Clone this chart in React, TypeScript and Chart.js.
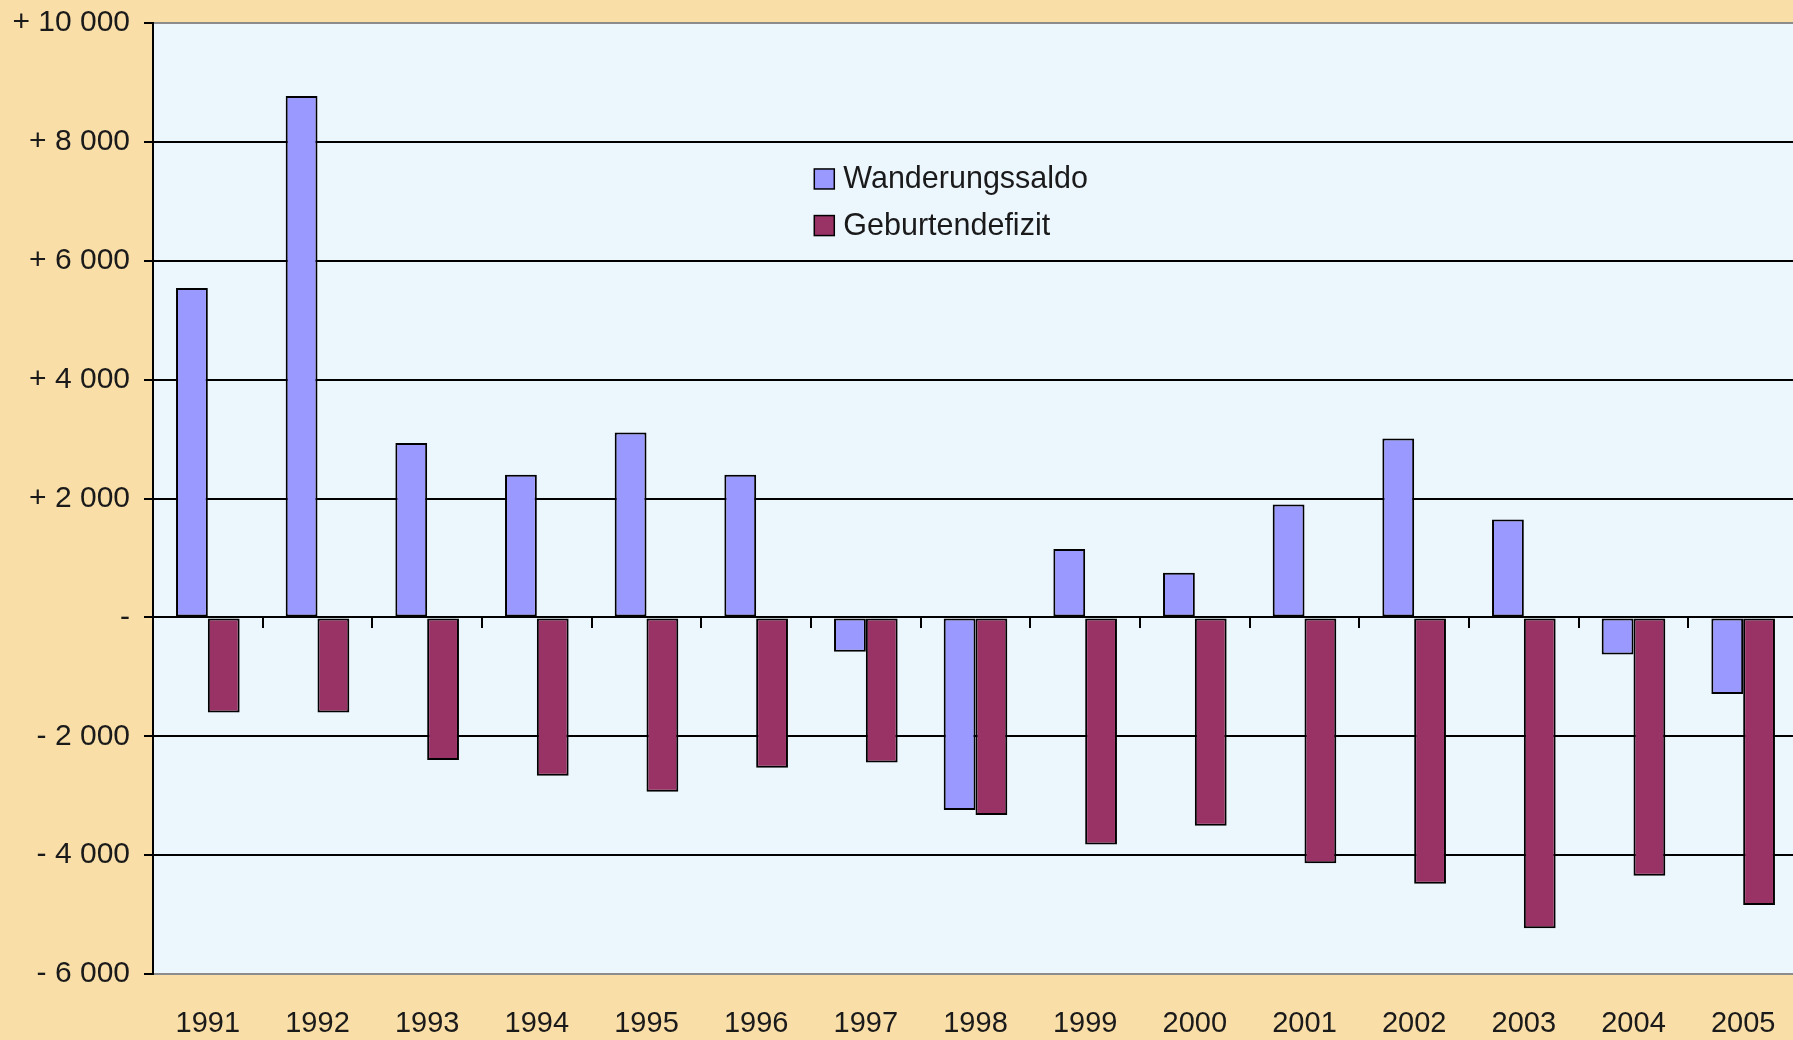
import React, { useEffect, useRef } from "react";
import { Chart, registerables } from "chart.js";

Chart.register(...registerables);

const years = ["1991", "1992", "1993", "1994", "1995", "1996", "1997", "1998", "1999", "2000", "2001", "2002", "2003", "2004", "2005"];
const wanderungssaldo = [5540, 8770, 2935, 2400, 3110, 2400, -580, -3240, 1150, 750, 1900, 3010, 1645, -625, -1290];
const geburtendefizit = [-1600, -1600, -2400, -2665, -2935, -2530, -2440, -3325, -3820, -3505, -4135, -4480, -5230, -4345, -4840];
const seriesNames = ["Wanderungssaldo", "Geburtendefizit"];
const seriesColors = ["#9999FF", "#993366"];
const yMin = -6000;
const yMax = 10000;
const yStep = 2000;

const FONT = "'Liberation Sans', Arial, sans-serif";
const OUTER_BG = "#F9DEA8";
const PLOT_BG = "#EBF6FD";

function formatTick(v: number): string {
  if (v === 0) return "-";
  const s = Math.abs(v).toString().replace(/\B(?=(\d{3})+(?!\d))/g, " ");
  return (v > 0 ? "+ " : "- ") + s;
}

const plotBgPlugin = {
  id: "plotBg",
  beforeDraw(chart: any) {
    const { ctx, chartArea } = chart;
    ctx.save();
    ctx.fillStyle = PLOT_BG;
    ctx.fillRect(chartArea.left, chartArea.top, chartArea.right - chartArea.left, chartArea.bottom - chartArea.top);
    ctx.restore();
  },
};

const legendPlugin = {
  id: "customLegend",
  afterDatasetsDraw(chart: any) {
    const { ctx, chartArea } = chart;
    const w = chartArea.right - chartArea.left;
    const h = chartArea.bottom - chartArea.top;
    const x0 = chartArea.left + 0.402 * w;
    const rows = [0.164, 0.213];
    const box = 20;
    ctx.save();
    ctx.font = `30.5px ${FONT}`;
    ctx.textBaseline = "middle";
    ctx.textAlign = "left";
    chart.data.datasets.forEach((ds: any, i: number) => {
      const cy = chartArea.top + rows[i] * h;
      ctx.fillStyle = ds.backgroundColor;
      ctx.fillRect(x0, cy - box / 2, box, box);
      ctx.lineWidth = 1.5;
      ctx.strokeStyle = "#000";
      ctx.strokeRect(x0, cy - box / 2, box, box);
      ctx.fillStyle = "#1a1a1a";
      ctx.fillText(ds.label, x0 + box + 9, cy + 1);
    });
    ctx.restore();
  },
};

export default function App() {
  const ref = useRef<HTMLCanvasElement | null>(null);

  useEffect(() => {
    if (!ref.current) return;
    const chart = new Chart(ref.current, {
      type: "bar",
      data: {
        labels: years,
        datasets: [
          {
            label: seriesNames[0],
            data: wanderungssaldo,
            backgroundColor: seriesColors[0],
            borderColor: "#000",
            borderWidth: 2,
            borderSkipped: false,
            categoryPercentage: 0.58,
            barPercentage: 1.0,
            xAxisID: "x",
          },
          {
            label: seriesNames[1],
            data: geburtendefizit,
            backgroundColor: seriesColors[1],
            borderColor: "#000",
            borderWidth: 2,
            borderSkipped: false,
            categoryPercentage: 0.58,
            barPercentage: 1.0,
            xAxisID: "x",
          },
        ],
      },
      options: {
        responsive: false,
        animation: false,
        layout: { padding: { top: 23, right: 2, left: 0, bottom: 0 } },
        plugins: {
          legend: { display: false },
          tooltip: { enabled: false },
        },
        scales: {
          x: {
            type: "category",
            position: "bottom",
            offset: true,
            grid: { display: false },
            border: { display: false },
            ticks: {
              font: { family: FONT, size: 29 },
              color: "#1a1a1a",
              padding: 25,
              maxRotation: 0,
              autoSkip: false,
            },
            afterFit(scale: any) {
              scale.height = 66;
              scale.paddingLeft = 0;
              scale.paddingRight = 0;
            },
          },
          x2: {
            type: "category",
            position: { y: 0 },
            offset: true,
            grid: {
              offset: true,
              drawOnChartArea: false,
              drawTicks: true,
              tickLength: 11,
              color: "#000",
              lineWidth: 2,
            },
            border: { display: false },
            ticks: { display: false },
          },
          y: {
            min: yMin,
            max: yMax,
            ticks: {
              stepSize: yStep,
              callback: (v: any) => formatTick(Number(v)),
              font: { family: FONT, size: 30 },
              color: "#1a1a1a",
              padding: 14,
            },
            grid: {
              color: (ctx: any) =>
                ctx.tick && (ctx.tick.value === yMax || ctx.tick.value === yMin) ? "#8c8c8c" : "#000",
              lineWidth: 2,
              tickLength: 9,
              tickColor: "#000",
            },
            border: { color: "#000", width: 2 },
            afterFit(scale: any) {
              scale.width = 153;
              scale.paddingTop = 0;
              scale.paddingBottom = 0;
            },
          },
        },
      },
      plugins: [plotBgPlugin, legendPlugin],
    } as any);
    return () => chart.destroy();
  }, []);

  return (
    <div
      style={{
        position: "fixed",
        left: 0,
        top: 0,
        width: 1793,
        height: 1040,
        overflow: "hidden",
        background: OUTER_BG,
      }}
    >
      <canvas ref={ref} width={1800} height={1040} style={{ display: "block" }} />
    </div>
  );
}
